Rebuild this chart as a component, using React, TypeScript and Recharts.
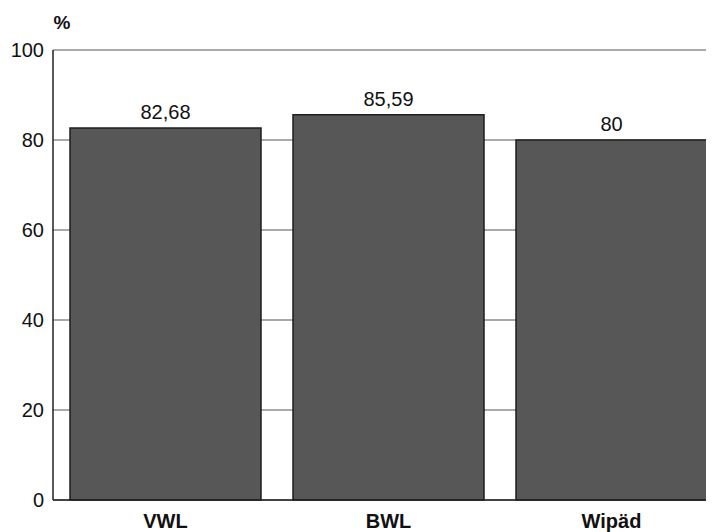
import React from 'react';
import { BarChart, Bar, XAxis, YAxis, CartesianGrid, LabelList, Label } from 'recharts';

const categories = ['VWL', 'BWL', 'Wipäd'];
const values = [82.68, 85.59, 80];
const valueLabels = ['82,68', '85,59', '80'];
const yTicks = [0, 20, 40, 60, 80, 100];

const data = categories.map((c, i) => ({ name: c, value: values[i], label: valueLabels[i] }));

const font = '"Liberation Sans", Arial, Helvetica, sans-serif';

const PercentLabel = (props: any) => {
  const vb = props.viewBox || {};
  return (
    <text x={vb.x + vb.width + 9} y={vb.y - 21} textAnchor="middle" fontFamily={font} fontSize={19} fontWeight="bold" fill="#111">
      %
    </text>
  );
};

export default function App() {
  return (
    <div style={{ margin: '-8px 0 0 -8px', width: 714, height: 532, background: '#fff', overflow: 'hidden' }}>
      <BarChart
        width={714}
        height={532}
        data={data}
        margin={{ top: 50, right: -9, bottom: 2, left: 0 }}
        barCategoryGap={16}
      >
        <CartesianGrid vertical={false} stroke="#555" strokeWidth={1} />
        <XAxis
          dataKey="name"
          height={30}
          axisLine={{ stroke: '#222', strokeWidth: 1.5 }}
          tickLine={false}
          tick={{ fontFamily: font, fontSize: 20, fill: '#111', fontWeight: 'bold' }}
          tickMargin={8}
          padding={{ left: 1, right: 0 }}
        />
        <YAxis
          width={53}
          domain={[0, 100]}
          ticks={yTicks}
          axisLine={{ stroke: '#222', strokeWidth: 1.5 }}
          tickLine={false}
          tick={{ fontFamily: font, fontSize: 20, fill: '#111' }}
          tickMargin={3}
          interval={0}
        >
          <Label content={<PercentLabel />} />
        </YAxis>
        <Bar dataKey="value" fill="#575757" stroke="#1e1e1e" strokeWidth={1.5} isAnimationActive={false}>
          <LabelList dataKey="label" position="top" offset={9} style={{ fontFamily: font, fontSize: 20, fill: '#111' }} />
        </Bar>
      </BarChart>
    </div>
  );
}
